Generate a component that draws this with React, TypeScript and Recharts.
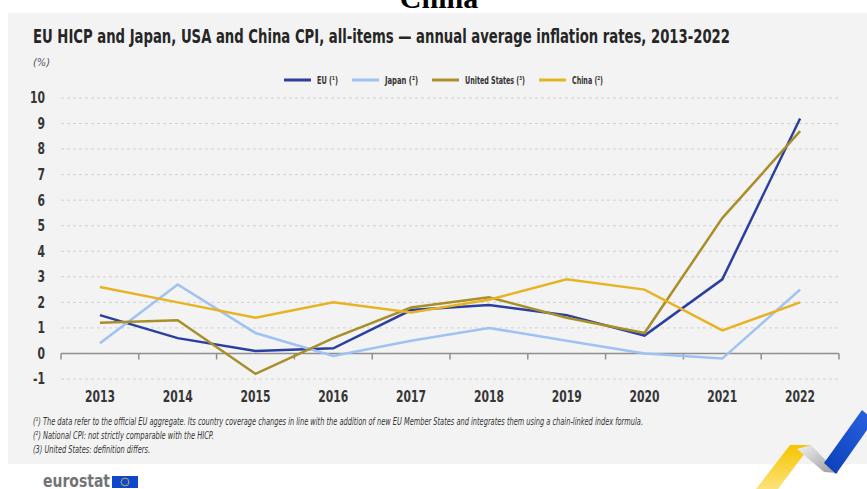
import React from 'react';
import { LineChart, Line, XAxis, YAxis, CartesianGrid, ReferenceLine } from 'recharts';

const years = ['2013', '2014', '2015', '2016', '2017', '2018', '2019', '2020', '2021', '2022'];
const euValues = [1.5, 0.6, 0.1, 0.2, 1.7, 1.9, 1.5, 0.7, 2.9, 9.2];
const japanValues = [0.4, 2.7, 0.8, -0.1, 0.5, 1.0, 0.5, 0.0, -0.2, 2.5];
const usValues = [1.2, 1.3, -0.8, 0.6, 1.8, 2.2, 1.4, 0.8, 5.3, 8.7];
const chinaValues = [2.6, 2.0, 1.4, 2.0, 1.6, 2.1, 2.9, 2.5, 0.9, 2.0];
const yTicks = [-1, 0, 1, 2, 3, 4, 5, 6, 7, 8, 9, 10];
const seriesKeys = ['eu', 'japan', 'us', 'china'];
const seriesLabels = ['EU (\u00b9)', 'Japan (\u00b2)', 'United States (\u00b3)', 'China (\u00b2)'];
const titleText = 'EU HICP and Japan, USA and China CPI, all-items \u2014 annual average inflation rates, 2013-2022';
const unitText = '(%)';
const footnotes = [
  '(\u00b9) The data refer to the official EU aggregate. Its country coverage changes in line with the addition of new EU Member States and integrates them using a chain-linked index formula.',
  '(\u00b2) National CPI: not strictly comparable with the HICP.',
  '(3) United States: definition differs.',
];

const data = years.map((year, i) => ({
  year,
  eu: euValues[i],
  japan: japanValues[i],
  us: usValues[i],
  china: chinaValues[i],
}));

const colors: Record<string, string> = {
  eu: '#2a3f9f',
  japan: '#9fc1f3',
  us: '#a88f2a',
  china: '#e8b322',
};

const cond = '"Liberation Sans Narrow", "Arial Narrow", "DejaVu Sans Condensed", "Roboto Condensed", "Open Sans", sans-serif';

const ZeroAxis = (p: any) => {
  const { x1, x2, y1 } = p;
  const n = years.length;
  const step = (x2 - x1) / n;
  return (
    <g>
      <line x1={x1} x2={x2} y1={y1} y2={y1} stroke="#8f8f8f" strokeWidth={1.5} />
      {Array.from({ length: n + 1 }, (_, i) => (
        <line key={i} x1={x1 + i * step} x2={x1 + i * step} y1={y1} y2={y1 + 6} stroke="#8f8f8f" strokeWidth={1.5} />
      ))}
    </g>
  );
};

const makeTick = (anchor: 'middle' | 'end', dy: string) => (p: any) => {
  const { x, y, payload } = p;
  return (
    <g transform={`translate(${x},${y})`}>
      <text
        transform="scale(0.8,1)"
        x={0}
        y={0}
        dy={dy}
        textAnchor={anchor}
        fontFamily={cond}
        fontSize={15}
        fontWeight={700}
        fill="#363636"
      >
        {payload.value}
      </text>
    </g>
  );
};

const XTick = makeTick('middle', '0.71em');
const YTick = makeTick('end', '0.36em');

const footWidths = [610, 181, 117];
const legendTextWidths = [21, 33, 60, 31];

export default function App() {
  let lx = 284;
  const legendItems = seriesKeys.map((k, i) => {
    const x0 = lx;
    lx += 27 + 6 + legendTextWidths[i] + 14;
    return (
      <g key={k}>
        <line x1={x0} x2={x0 + 27} y1={80} y2={80} stroke={colors[k]} strokeWidth={3} />
        <text x={x0 + 33} y={80} dy="0.35em" fontFamily={cond} fontSize={10.5} fontWeight={700} fill="#333" textLength={legendTextWidths[i]} lengthAdjust="spacingAndGlyphs">
          {seriesLabels[i]}
        </text>
      </g>
    );
  });
  return (
    <div style={{ position: 'absolute', left: 0, top: 0, width: 867, height: 489, background: '#ffffff', overflow: 'hidden' }}>
      <div style={{ position: 'absolute', left: 8, top: 13, width: 859, height: 451, background: '#f3f3f3' }} />
      <svg width={867} height={489} style={{ position: 'absolute', left: 0, top: 0 }}>
        <defs>
          <linearGradient id="yel" x1="0" y1="0" x2="0" y2="1">
            <stop offset="0" stopColor="#f6c400" />
            <stop offset="1" stopColor="#fbe37a" />
          </linearGradient>
          <linearGradient id="gry" x1="0" y1="0" x2="1" y2="1">
            <stop offset="0" stopColor="#f2f2f2" />
            <stop offset="1" stopColor="#9a9a9a" />
          </linearGradient>
          <linearGradient id="blu" x1="0" y1="1" x2="1" y2="0">
            <stop offset="0" stopColor="#0b3fb8" />
            <stop offset="1" stopColor="#2a62e0" />
          </linearGradient>
        </defs>
        <text x={439} y={8} textAnchor="middle" fontFamily='"Liberation Serif", "Times New Roman", serif' fontWeight={700} fontSize={30} fill="#000">China</text>
        <text x={33} y={43} fontFamily={cond} fontSize={19} fontWeight={600} fill="#262626" textLength={697} lengthAdjust="spacingAndGlyphs">{titleText}</text>
        <text x={33} y={66} fontFamily={cond} fontStyle="italic" fontSize={11} fill="#555">{unitText}</text>
        {legendItems}
        {footnotes.map((f, i) => (
          <text key={i} x={33} y={425 + i * 14} fontFamily={cond} fontStyle="italic" fontSize={10} fill="#333" textLength={footWidths[i]} lengthAdjust="spacingAndGlyphs">{f}</text>
        ))}
        <text x={43} y={487} fontFamily='"DejaVu Sans", Verdana, sans-serif' fontWeight={700} fontSize={17} fill="#737373" textLength={67} lengthAdjust="spacingAndGlyphs">eurostat</text>
        <rect x={112} y={476} width={26} height={12} fill="#0e47cb" />
        {Array.from({ length: 12 }, (_, i) => {
          const a = (i / 12) * Math.PI * 2;
          return <circle key={i} cx={125 + Math.cos(a) * 3.8} cy={482 + Math.sin(a) * 3.8} r={0.7} fill="#ffd617" />;
        })}
        <polygon points="756,489 778,489 811,445 790,445" fill="url(#yel)" />
        <polygon points="797,449 811,445 838,473 824,472" fill="url(#gry)" />
        <polygon points="824,463 836,474 874,420 862,410" fill="url(#blu)" />
      </svg>
      <div style={{ position: 'absolute', left: 0, top: 0 }}>
        <LineChart width={867} height={489} data={data} margin={{ top: 98, right: 28, bottom: 80, left: 0 }}>
          <CartesianGrid horizontal vertical={false} strokeDasharray="3 3" stroke="#d2d2d2" />
          <XAxis
            dataKey="year"
            scale="band"
            axisLine={false}
            tickLine={false}
            interval={0}
            height={30}
            tickMargin={6}
            tick={XTick}
          />
          <YAxis
            domain={[-1, 10]}
            ticks={yTicks}
            interval={0}
            width={61}
            axisLine={false}
            tickLine={false}
            tickMargin={10}
            tick={YTick}
          />
          <ReferenceLine y={0} shape={ZeroAxis} />
          {seriesKeys.map((k, i) => (
            <Line
              key={k}
              type="linear"
              dataKey={k}
              name={seriesLabels[i]}
              stroke={colors[k]}
              strokeWidth={2.5}
              dot={false}
              activeDot={false}
              isAnimationActive={false}
            />
          ))}
        </LineChart>
      </div>
    </div>
  );
}
